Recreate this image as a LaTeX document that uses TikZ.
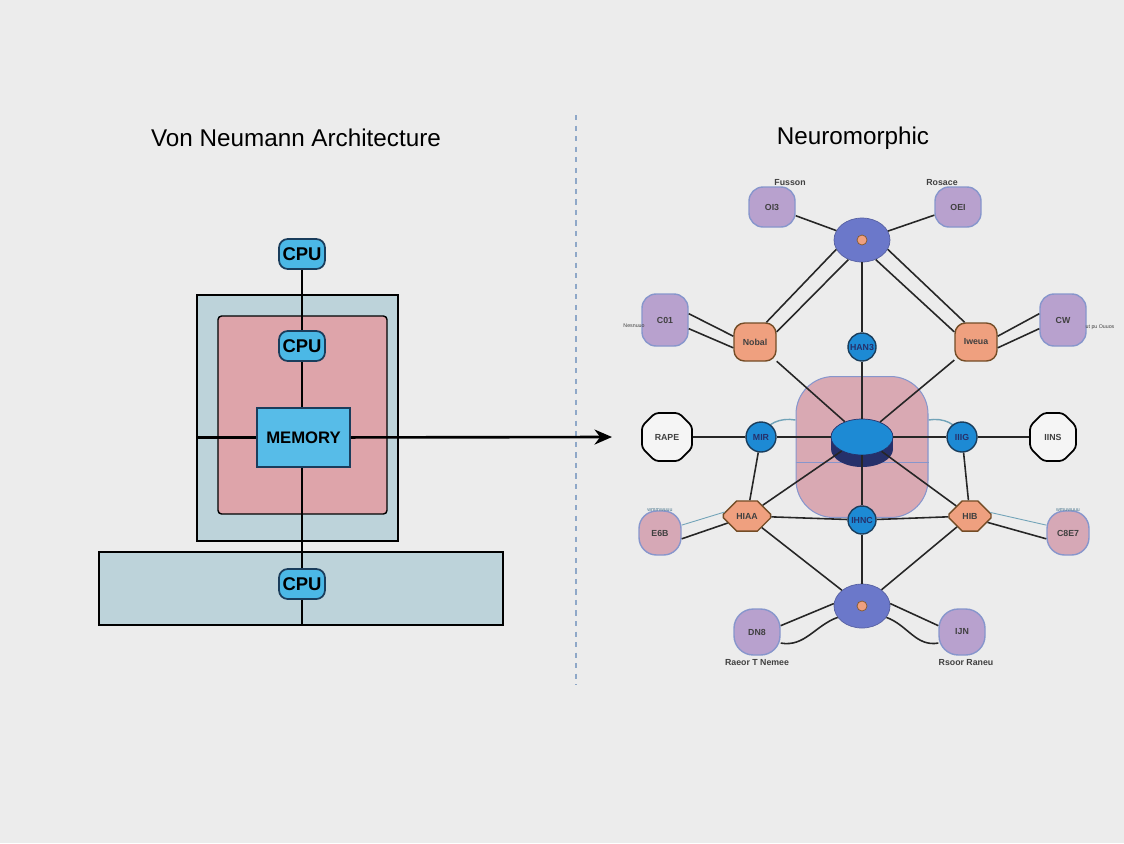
\documentclass[tikz,border=0pt]{standalone}
\usepackage{fontspec}
\setmainfont{Liberation Sans}
\usepackage{xcolor}
\usetikzlibrary{arrows.meta,positioning,shapes.geometric,shapes.misc}
\definecolor{bgcol}{HTML}{ECECEC}
\definecolor{cpucyan}{HTML}{4BB8E6}
\definecolor{cpuedge}{HTML}{1A3D5C}
\definecolor{boxblue}{HTML}{BDD3DA}
\definecolor{boxpink}{HTML}{DEA4AA}
\definecolor{memblue}{HTML}{57BCE8}
\definecolor{hubblue}{HTML}{6B78CA}
\definecolor{somapurple}{HTML}{B8A1CE}
\definecolor{synorange}{HTML}{EFA07F}
\definecolor{neurblue}{HTML}{1D8AD4}
\definecolor{blobpink}{HTML}{D9A9B3}
\definecolor{navyblue}{HTML}{26306A}
\definecolor{divline}{HTML}{8FA8C8}
\definecolor{rimblue}{HTML}{8796CC}

\begin{document}
\begin{tikzpicture}[
  x=0.02cm,y=-0.02cm,
  title/.style={font=\fontsize{13.8}{16}\selectfont},
  cpu/.style={draw=cpuedge,fill=cpucyan,rounded corners=5pt,line width=1pt,
    minimum width=0.92cm,minimum height=0.6cm,inner sep=1pt,
    font=\fontsize{10.5}{12}\selectfont\bfseries},
  panel/.style={draw=black,line width=0.8pt,fill=boxblue,minimum width=#1},
  wire/.style={line width=1.5pt,color=black},
  link/.style={line width=0.9pt,color=black!85},
  faint/.style={line width=0.5pt,color=cyan!40!gray},
  tinytext/.style={font=\fontsize{5}{6}\selectfont\bfseries,text=black!75},
  hub/.style={ellipse,fill=hubblue,draw=hubblue!80!black,minimum width=1.12cm,
    minimum height=0.88cm},
  dot/.style={circle,fill=synorange,draw=brown!70!black,minimum size=0.2cm,inner sep=0pt},
  soma/.style={draw=rimblue,fill=somapurple,rounded corners=8pt,line width=0.8pt,
    minimum width=0.92cm,minimum height=0.8cm,tinytext},
  syn/.style={draw=brown!60!black,fill=synorange,rounded corners=6pt,line width=0.8pt,
    minimum width=0.84cm,minimum height=0.76cm,tinytext},
  hexa/.style={chamfered rectangle,chamfered rectangle xsep=0.14cm,draw=brown!60!black,fill=synorange,
    line width=0.8pt,minimum width=0.84cm,minimum height=0.6cm,tinytext},
  neuron/.style={circle,fill=neurblue,draw=cpuedge,line width=0.8pt,minimum size=0.56cm,
    inner sep=0pt,tinytext,text=navyblue},
  port/.style={chamfered rectangle,chamfered rectangle xsep=0.14cm,draw=black,fill=bgcol!50!white,
    line width=1pt,rounded corners=2pt,minimum width=0.92cm,minimum height=0.96cm,tinytext},
  bucket/.style={draw=rimblue,fill=blobpink!90!somapurple,rounded corners=10pt,line width=0.8pt,
    minimum width=0.84cm,minimum height=0.88cm,tinytext}
]
\fill[bgcol] (0,0) rectangle (1124,843);
\useasboundingbox (0,0) rectangle (1124,843);

% titles and divider
\node[title] (vnTitle) at (296,138) {Von Neumann Architecture};
\node[title] (nmTitle) at (853,138) {Neuromorphic};
\draw[divline,dashed,line width=0.6pt] (576,115) -- (576,685);

% von Neumann side
\node[panel=4.02cm,minimum height=4.92cm] (outer) at (297.5,418) {};
\node[draw=black,line width=0.8pt,fill=boxpink,rounded corners=2pt,
  minimum width=3.38cm,minimum height=3.96cm] (inner) at (302.5,415) {};
\node[panel=8.08cm,minimum height=1.46cm] (base) at (301,588.5) {};
\node[draw=cpuedge,fill=memblue,line width=1pt,minimum width=1.86cm,minimum height=1.18cm,
  font=\fontsize{9.5}{11}\selectfont\bfseries] (mem) at (303.5,437.5) {MEMORY};
\node[cpu] (cpuTop) at (302,254) {CPU};
\node[cpu] (cpuMid) at (302,346) {CPU};
\node[cpu] (cpuBase) at (302,584) {CPU};
\coordinate (arrowEnd) at (612,437);

\draw[wire] (cpuTop) -- (cpuMid);
\draw[wire] (cpuMid) -- (cpuMid |- mem.north);
\draw[wire] (cpuBase |- mem.south) -- (cpuBase);
\draw[wire] (cpuBase) -- (cpuBase |- base.south);
\draw[wire] (outer.west |- mem) -- (mem);
\draw[wire,-{Stealth[length=3.5mm,width=3mm]}] (mem) -- (arrowEnd);

% neuromorphic side
\node[draw=rimblue,fill=blobpink,rounded corners=0.75cm,line width=0.6pt,
  minimum width=2.64cm,minimum height=2.82cm] (blob) at (862,447) {};
\draw[rimblue,line width=0.4pt] (blob.west |- 0,462) -- (blob.east |- 0,462);
\draw[faint,line width=0.8pt] (blob.west |- 0,420) to[out=170,in=70] (761,437);
\draw[faint,line width=0.8pt] (blob.east |- 0,420) to[out=10,in=110] (962,437);

\node[hub] (hubTop) at (862,240) {};
\node[dot] at (hubTop) {};
\node[hub] (hubBot) at (862,606) {};
\node[dot] at (hubBot) {};

\node[soma] (somaTL) at (772,207) {OI3};
\node[soma] (somaTR) at (958,207) {OEI};
\node[tinytext] (labTL) at (790,183) {Fusson};
\node[tinytext] (labTR) at (942,183) {Rosace};
\node[soma,minimum height=1.04cm] (somaML) at (665,320) {C01};
\node[soma,minimum height=1.04cm] (somaMR) at (1063,320) {CW};
\node[tinytext,font=\fontsize{3}{4}\selectfont] (labML) at (634,326) {Nesnuuo};
\node[tinytext,font=\fontsize{3}{4}\selectfont] (labMR) at (1100,327) {ut pu Ouuos};
\node[syn] (synL) at (755,342) {Nobal};
\node[syn] (synR) at (976,342) {Iweua};

\fill[navyblue] (831,437) rectangle (893,449);
\fill[navyblue] (862,449) ellipse [x radius=0.62cm,y radius=0.36cm];
\node[ellipse,fill=neurblue,draw=navyblue,minimum width=1.24cm,minimum height=0.72cm] (core) at (862,437) {};

\node[neuron] (nTop) at (862,347) {HAN3};
\node[neuron,minimum size=0.6cm] (nLeft) at (761,437) {MIR};
\node[neuron,minimum size=0.6cm] (nRight) at (962,437) {IIIG};
\node[neuron] (nBot) at (862,520) {IHNC};
\node[port] (portL) at (667,437) {RAPE};
\node[port] (portR) at (1053,437) {IINS};
\node[hexa] (hexL) at (747,516) {HIAA};
\node[hexa] (hexR) at (970,516) {HIB};
\node[bucket] (buckL) at (660,533) {E6B};
\node[bucket] (buckR) at (1068,533) {C8E7};
\node[tinytext,text=cyan!50!black,font=\fontsize{3}{4}\selectfont] (labBL) at (660,510) {wmmwuuu};
\node[tinytext,text=cyan!50!black,font=\fontsize{3}{4}\selectfont] (labBR) at (1068,510) {wmuwuuu};
\node[soma,minimum height=0.92cm,rounded corners=11pt] (somaBL) at (757,632) {DN8};
\node[soma,minimum height=0.92cm,rounded corners=11pt] (somaBR) at (962,632) {IJN};
\node[tinytext] (labBotL) at (757,662) {Raeor T Nemee};
\node[tinytext] (labBotR) at (966,662) {Rsoor Raneu};

% connections
\draw[link] (hubTop) -- (somaTL);
\draw[link] (hubTop) -- (somaTR);
\draw[link] (hubTop.200) -- (synL.60);
\draw[link] (hubTop.235) -- (synL.25);
\draw[link] (hubTop.340) -- (synR.120);
\draw[link] (hubTop.305) -- (synR.155);
\draw[link] (hubTop) -- (nTop);
\draw[link] (nTop) -- (core);
\draw[link] (somaML.15) -- (synL.165);
\draw[link] (somaML.-20) -- (synL.195);
\draw[link] (somaMR.165) -- (synR.15);
\draw[link] (somaMR.-160) -- (synR.-15);
\draw[link] (synL) -- (core);
\draw[link] (synR) -- (core);
\draw[link] (portL) -- (nLeft);
\draw[link] (nLeft) -- (core);
\draw[link] (core) -- (nRight);
\draw[link] (nRight) -- (portR);
\draw[link] (nLeft) -- (hexL);
\draw[link] (nRight) -- (hexR);
\draw[link] (core) -- (hexL);
\draw[link] (core) -- (hexR);
\draw[faint] (hexL.170) -- (buckL.20);
\draw[link] (hexL.200) -- (buckL.-15);
\draw[faint] (hexR.10) -- (buckR.160);
\draw[link] (hexR.-20) -- (buckR.-165);
\draw[link] (hexL) -- (nBot);
\draw[link] (nBot) -- (hexR);
\draw[link] (core) -- (nBot);
\draw[link] (nBot) -- (hubBot);
\draw[link] (hexL) -- (hubBot);
\draw[link] (hexR) -- (hubBot);
\draw[link] (hubBot.175) -- (somaBL.15);
\draw[link] (hubBot.205) to[out=200,in=-10] (somaBL.-25);
\draw[link] (hubBot.5) -- (somaBR.165);
\draw[link] (hubBot.-25) to[out=-20,in=190] (somaBR.-155);
\end{tikzpicture}
\end{document}
